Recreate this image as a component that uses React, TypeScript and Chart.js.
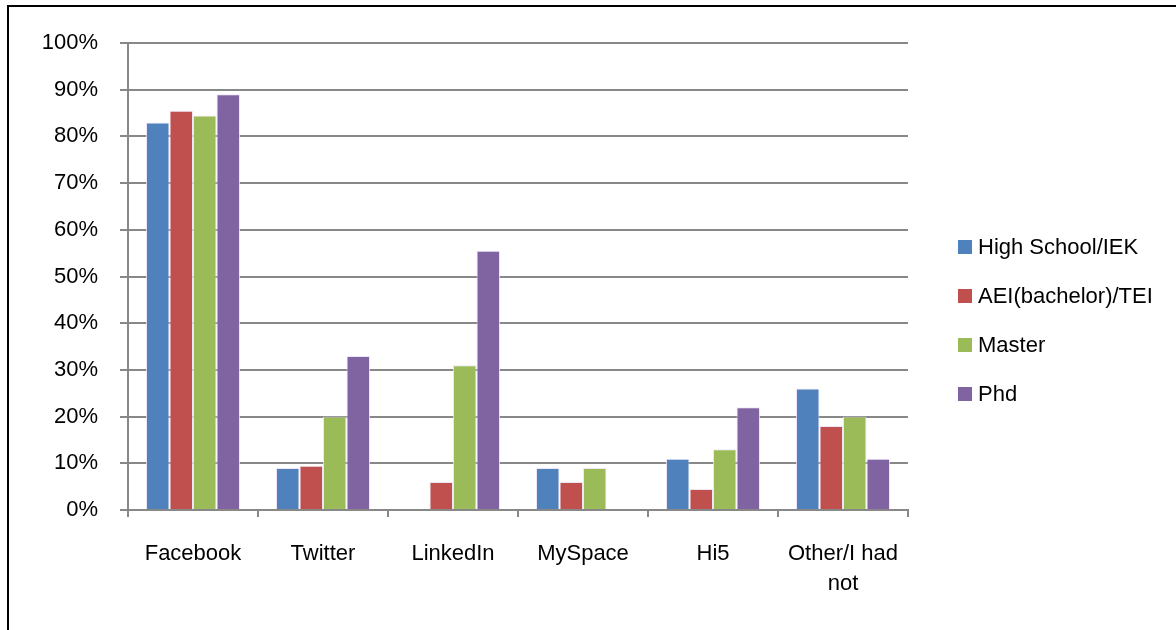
import React, { useEffect, useRef } from "react";
import { Chart, registerables } from "chart.js";

Chart.register(...registerables);

const categories: (string | string[])[] = ["Facebook", "Twitter", "LinkedIn", "MySpace", "Hi5", ["Other/I had", "not"]];
const seriesNames = ["High School/IEK", "AEI(bachelor)/TEI", "Master", "Phd"];
const seriesColors = ["#4F81BD", "#C0504D", "#9BBB59", "#8064A2"];
const highSchool = [83, 9, 0, 9, 11, 26];
const bachelor = [85.5, 9.5, 6, 6, 4.5, 18];
const master = [84.5, 20, 31, 9, 13, 20];
const phd = [89, 33, 55.5, 0, 22, 11];
const seriesValues = [highSchool, bachelor, master, phd];
const yTicks = [0, 10, 20, 30, 40, 50, 60, 70, 80, 90, 100];

const FONT = "'Liberation Sans', Arial, sans-serif";

export default function App() {
  const ref = useRef<HTMLCanvasElement | null>(null);

  useEffect(() => {
    if (!ref.current) return;
    const chart = new Chart(ref.current, {
      type: "bar",
      data: {
        labels: categories,
        datasets: seriesNames.map((name, i) => ({
          label: name,
          data: seriesValues[i],
          backgroundColor: seriesColors[i],
          borderColor: "rgba(235,225,245,0.8)",
          borderWidth: 1,
          categoryPercentage: 0.723,
          barPercentage: 1,
        })),
      },
      options: {
        animation: false,
        responsive: true,
        maintainAspectRatio: false,
        layout: { padding: { left: 0, top: 43, right: 268, bottom: 0 } },
        plugins: { legend: { display: false }, tooltip: { enabled: false } },
        scales: {
          x: {
            grid: {
              drawOnChartArea: false,
              drawTicks: true,
              tickLength: 7,
              color: "#888888",
              lineWidth: 2,
              offset: true,
            },
            border: { display: true, color: "#888888", width: 2 },
            ticks: {
              color: "#000",
              font: { family: FONT, size: 22, lineHeight: 1.35 },
              padding: 22,
              maxRotation: 0,
              autoSkip: false,
            },
            afterFit: (scale: any) => {
              scale.height = 120;
            },
          },
          y: {
            min: 0,
            max: 100,
            afterBuildTicks: (scale: any) => {
              scale.ticks = yTicks.map((v) => ({ value: v }));
            },
            grid: {
              color: "#888888",
              lineWidth: 2,
              drawTicks: true,
              tickLength: 8,
            },
            border: { display: true, color: "#888888", width: 2 },
            ticks: {
              color: "#000",
              font: { family: FONT, size: 22 },
              padding: 22,
              callback: (v: any) => v + "%",
            },
            afterFit: (scale: any) => {
              scale.width = 128;
            },
          },
        },
      },
    });
    return () => chart.destroy();
  }, []);

  return (
    <div style={{ position: "absolute", left: 0, top: 0, width: 1176, height: 630, overflow: "hidden", background: "#fff" }}>
      <canvas ref={ref} style={{ position: "absolute", left: 0, top: 0 }} />
      <div style={{ position: "absolute", left: 7, top: 5, width: 1169, height: 2, background: "#000" }} />
      <div style={{ position: "absolute", left: 7, top: 5, width: 2, height: 625, background: "#000" }} />
      {seriesNames.map((name, i) => (
        <div
          key={name}
          style={{
            position: "absolute",
            left: 958,
            top: 246.5 + i * 49 - 15,
            height: 30,
            display: "flex",
            alignItems: "center",
            fontFamily: FONT,
            fontSize: 22,
            color: "#000",
            whiteSpace: "nowrap",
          }}
        >
          <span style={{ display: "inline-block", width: 14, height: 14, background: seriesColors[i], marginRight: 6 }} />
          <span>{name}</span>
        </div>
      ))}
    </div>
  );
}
